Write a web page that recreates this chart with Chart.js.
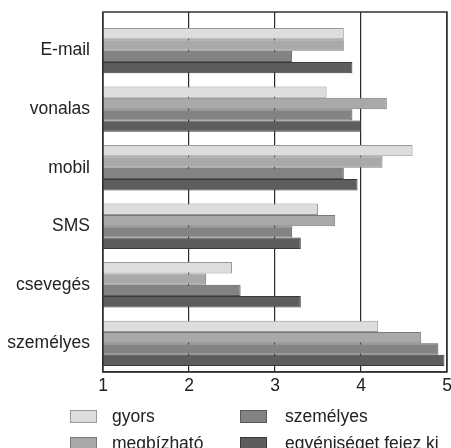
<!DOCTYPE html>
<html lang="hu">
<head>
<meta charset="UTF-8" />
<title>Kommunikációs csatornák</title>
<script src="https://cdn.jsdelivr.net/npm/chart.js"></script>
<style>
  html, body { margin: 0; padding: 0; background: #fff; }
  #wrap { position: relative; width: 451px; height: 448px; overflow: hidden; }
  #legend { position: absolute; left: 0; top: 405px; width: 451px; font: 17.5px "Liberation Sans", Arial, sans-serif; color: #222; }
  .item { position: absolute; height: 22px; line-height: 22px; white-space: nowrap; }
  .item span.box { position: absolute; left: 0; top: 5px; width: 25px; height: 11px; border: 1px solid; }
  .item span.txt { position: absolute; }
</style>
</head>
<body>
<div id="wrap">
  <canvas id="chart" width="451" height="448"></canvas>
  <div id="legend"></div>
</div>
<script>
const categories = ["E-mail", "vonalas", "mobil", "SMS", "csevegés", "személyes"];
const seriesNames = ["gyors", "megbízható", "személyes", "egyéniséget fejez ki"];
const gyors = [3.8, 3.6, 4.6, 3.5, 2.5, 4.2];
const megbizhato = [3.8, 4.3, 4.25, 3.7, 2.2, 4.7];
const szemelyes = [3.2, 3.9, 3.8, 3.2, 2.6, 4.9];
const egyeniseg = [3.9, 4.0, 3.96, 3.3, 3.3, 4.97];
const xTicks = [1, 2, 3, 4, 5];

const fills = ["#dddddd", "#a9a9a9", "#838383", "#5d5d5d"];
const borders = ["#999999", "#7a7a7a", "#5a5a5a", "#3a3a3a"];
const allValues = [gyors, megbizhato, szemelyes, egyeniseg];

const font = { family: "'Liberation Sans', Arial, sans-serif", size: 17.5 };

const datasets = allValues.map((vals, k) => ({
  label: seriesNames[k],
  data: vals.map((v, i) => ({ x: v, y: i })),
  backgroundColor: fills[k],
  borderColor: borders[k],
  borderWidth: 1,
  categoryPercentage: 0.775,
  barPercentage: 1.0
}));

const framePlugin = {
  id: "frame",
  afterDraw(chart) {
    const a = chart.chartArea, c = chart.ctx;
    c.save();
    c.strokeStyle = "#333";
    c.lineWidth = 1.5;
    c.strokeRect(a.left, a.top, a.right - a.left, a.bottom - a.top);
    c.restore();
  }
};

new Chart(document.getElementById("chart"), {
  type: "bar",
  data: { datasets },
  options: {
    indexAxis: "y",
    responsive: false,
    animation: false,
    layout: { padding: { top: 12, right: 4, left: 0, bottom: 0 } },
    plugins: { legend: { display: false }, tooltip: { enabled: false } },
    scales: {
      x: {
        type: "linear",
        min: 1,
        max: 5,
        afterBuildTicks: s => { s.ticks = xTicks.map(v => ({ value: v })); },
        afterFit: s => { s.height = 76; s.paddingLeft = 0; s.paddingRight = 0; },
        grid: { color: "#2a2a2a", lineWidth: 1.2, drawTicks: false },
        border: { color: "#333", width: 1.5 },
        ticks: { font, color: "#222", padding: 4, maxRotation: 0 }
      },
      y: {
        type: "linear",
        reverse: true,
        offset: false,
        min: -0.66,
        max: 5.49,
        afterBuildTicks: s => { s.ticks = categories.map((c, i) => ({ value: i })); },
        afterFit: s => { s.width = 103; s.paddingTop = 0; s.paddingBottom = 0; },
        grid: { display: false, offset: false, drawTicks: false },
        border: { display: false },
        ticks: { font, color: "#222", padding: 13, callback: v => categories[v] }
      }
    }
  },
  plugins: [framePlugin]
});

// legend: two columns, column-major order
const legend = document.getElementById("legend");
const colX = [[70, 112], [240, 285]];
seriesNames.forEach((name, k) => {
  const col = Math.floor(k / 2), row = k % 2;
  const it = document.createElement("div");
  it.className = "item";
  it.style.left = colX[col][0] + "px";
  it.style.top = (row * 27) + "px";
  const box = document.createElement("span");
  box.className = "box";
  box.style.background = fills[k];
  box.style.borderColor = borders[k];
  const txt = document.createElement("span");
  txt.className = "txt";
  txt.style.left = (colX[col][1] - colX[col][0]) + "px";
  txt.textContent = name;
  it.appendChild(box);
  it.appendChild(txt);
  legend.appendChild(it);
});
</script>
</body>
</html>
